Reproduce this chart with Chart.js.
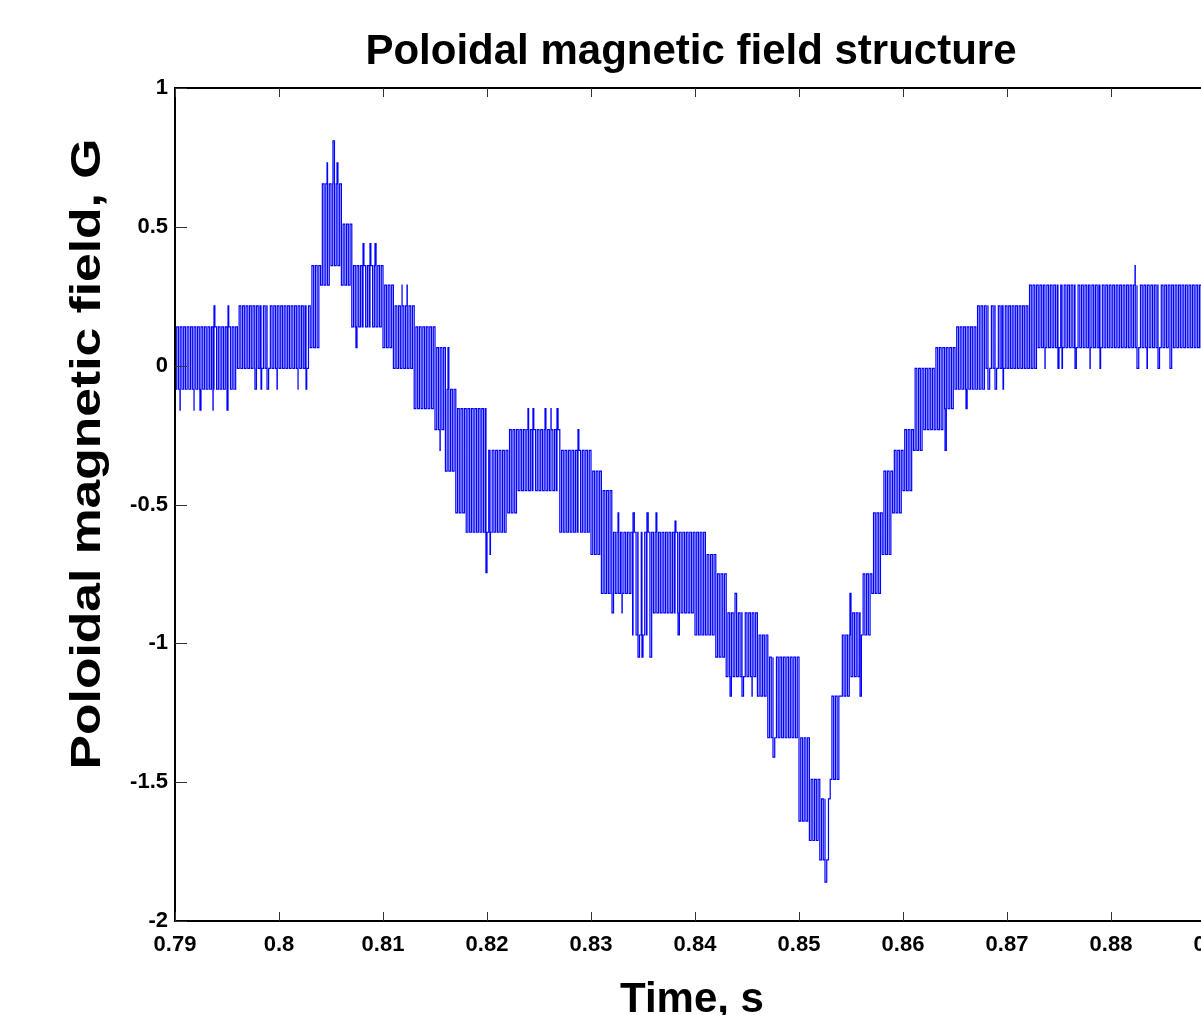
<!DOCTYPE html>
<html>
<head>
<meta charset="utf-8">
<script src="https://cdn.jsdelivr.net/npm/chart.js@4.4.1/dist/chart.umd.min.js"></script>
<style>
  html, body { margin: 0; padding: 0; background: #fff; overflow: hidden; }
</style>
</head>
<body>
<canvas id="chart" width="1330" height="1015"></canvas>
<script>
// Envelope of the probe signal in 1 ms bins starting at 0.79 s
const binStart = 0.79;
const binWidth = 0.001;

const binHigh = [
  0.14, 0.14, 0.14, 0.14, 0.14, 0.14, 0.215, 0.215, 0.215, 0.215,
  0.215, 0.215, 0.215, 0.36, 0.655, 0.655, 0.51, 0.36, 0.36, 0.36,
  0.29, 0.215, 0.215, 0.14, 0.14, 0.065, -0.085, -0.155, -0.155, -0.155,
  -0.305, -0.305, -0.23, -0.23, -0.23, -0.23, -0.23, -0.305, -0.305, -0.305,
  -0.38, -0.45, -0.6, -0.6, -0.6, -0.6, -0.6, -0.6, -0.6, -0.6,
  -0.6, -0.68, -0.75, -0.89, -0.89, -0.89, -0.97, -1.05, -1.05, -1.05,
  -1.34, -1.49, -1.56, -1.19, -0.97, -0.89, -0.75, -0.53, -0.38, -0.305,
  -0.23, -0.01, -0.01, 0.065, 0.065, 0.14, 0.14, 0.215, 0.215, 0.215,
  0.215, 0.215, 0.29, 0.29, 0.29, 0.29, 0.29, 0.29, 0.29, 0.29,
  0.29, 0.29, 0.29, 0.29, 0.29, 0.29, 0.29, 0.29, 0.29
];

const binLow = [
  -0.085, -0.085, -0.085, -0.085, -0.085, -0.085, -0.01, -0.01, -0.01, -0.01,
  -0.01, -0.01, -0.01, 0.065, 0.29, 0.36, 0.29, 0.14, 0.14, 0.14,
  0.065, -0.01, -0.01, -0.155, -0.155, -0.23, -0.38, -0.53, -0.6, -0.6,
  -0.6, -0.6, -0.53, -0.45, -0.45, -0.45, -0.45, -0.6, -0.6, -0.6,
  -0.68, -0.82, -0.82, -0.82, -0.97, -0.97, -0.89, -0.89, -0.89, -0.89,
  -0.97, -0.97, -1.05, -1.12, -1.12, -1.12, -1.19, -1.34, -1.34, -1.34,
  -1.64, -1.71, -1.78, -1.49, -1.19, -1.12, -0.97, -0.82, -0.68, -0.53,
  -0.45, -0.305, -0.23, -0.23, -0.155, -0.085, -0.085, -0.085, -0.01, -0.01,
  -0.01, -0.01, -0.01, 0.065, 0.065, 0.065, 0.065, 0.065, 0.065, 0.065,
  0.065, 0.065, 0.065, 0.065, 0.065, 0.065, 0.065, 0.065, 0.065
];

// single-sample excursions outside the band
const spikeTimes = [
  0.79048, 0.79183, 0.7924, 0.79365, 0.79375, 0.795, 0.7951, 0.79769, 0.79827, 0.79885,
  0.79981, 0.80183, 0.8026, 0.80462, 0.80519, 0.80558, 0.8074, 0.80808, 0.80875, 0.80923,
  0.81183, 0.81231, 0.81548, 0.81625, 0.8199, 0.82029, 0.82394, 0.82442, 0.82558, 0.82615,
  0.82673, 0.82875, 0.83202, 0.8326, 0.83298, 0.83404, 0.83452, 0.8349, 0.83538, 0.83567,
  0.83625, 0.83808, 0.83837, 0.84337, 0.84385, 0.84452, 0.84548, 0.8475, 0.8525, 0.8549,
  0.85587, 0.86404, 0.86606, 0.86817, 0.86885, 0.86962, 0.87365, 0.8749, 0.87529, 0.87654,
  0.87798, 0.87894, 0.88231, 0.8825, 0.88346, 0.88452, 0.88567
];
const spikeValues = [
  -0.16, -0.16, -0.16, -0.16, 0.215, -0.16, 0.215, -0.085, -0.085, -0.085,
  -0.085, -0.085, -0.085, 0.73, 0.81, 0.73, 0.065, 0.44, 0.44, 0.44,
  0.29, 0.29, -0.305, 0.065, -0.745, -0.68, -0.155, -0.155, -0.155, -0.155,
  -0.155, -0.23, -0.89, -0.53, -0.89, -0.53, -1.05, -1.05, -0.53, -1.05,
  -0.53, -0.56, -0.97, -1.19, -0.82, -1.19, -1.19, -1.41, -1.86, -0.82,
  -1.19, -0.305, -0.155, -0.085, -0.085, -0.085, -0.01, -0.01, -0.01, -0.01,
  -0.01, -0.01, 0.36, -0.01, -0.01, -0.01, -0.01
];

const xTicks = [0.79, 0.8, 0.81, 0.82, 0.83, 0.84, 0.85, 0.86, 0.87, 0.88, 0.89];
const yTicks = [1, 0.5, 0, -0.5, -1, -1.5, -2];

const titleText = "Poloidal magnetic field structure";
const xLabel = "Time, s";
const yLabel = "Poloidal magnetic field, G";

// fast sampling: the trace flips between the low and high level inside each bin
const flipsPerBin = 6;
const points = [];
binHigh.forEach((hi, i) => {
  const t0 = binStart + i * binWidth;
  for (let k = 0; k < flipsPerBin; k++) {
    points.push({ x: t0 + k * binWidth / flipsPerBin, y: k % 2 ? hi : binLow[i] });
  }
});
spikeTimes.forEach((t, i) => points.push({ x: t, y: spikeValues[i] }));
points.sort((a, b) => a.x - b.x);

const FONT = "'Liberation Sans', Arial, sans-serif";

const frame = {
  id: "frame",
  afterDraw(chart) {
    const { ctx, chartArea: a, scales: { x, y } } = chart;
    ctx.save();
    ctx.strokeStyle = "#000";
    ctx.lineWidth = 2;
    ctx.strokeRect(a.left, a.top, a.right - a.left, a.bottom - a.top);

    ctx.strokeStyle = "#333";
    ctx.lineWidth = 1;
    ctx.beginPath();
    xTicks.forEach(v => {
      const px = Math.round(x.getPixelForValue(v)) + 0.5;
      ctx.moveTo(px, a.bottom);
      ctx.lineTo(px, a.bottom - 9);
      ctx.moveTo(px, a.top);
      ctx.lineTo(px, a.top + 9);
    });
    yTicks.forEach(v => {
      const py = Math.round(y.getPixelForValue(v)) + 0.5;
      ctx.moveTo(a.left, py);
      ctx.lineTo(a.left + 12, py);
      ctx.moveTo(a.right, py);
      ctx.lineTo(a.right - 12, py);
    });
    ctx.stroke();

    ctx.fillStyle = "#000";
    ctx.textAlign = "center";
    ctx.textBaseline = "alphabetic";
    ctx.font = "bold 42px " + FONT;
    ctx.fillText(titleText, 691, 64);
    ctx.fillText(xLabel, 692, 1012);
    ctx.translate(100, 454);
    ctx.rotate(-Math.PI / 2);
    ctx.scale(1.2, 1);
    ctx.font = "bold 43px " + FONT;
    ctx.fillText(yLabel, 0, 0);
    ctx.restore();
  }
};

const tickFont = { family: FONT, size: 22, weight: "bold" };

new Chart(document.getElementById("chart"), {
  type: "line",
  data: {
    datasets: [{
      data: points,
      borderColor: "#0000ff",
      borderWidth: 1.2,
      pointRadius: 0,
      stepped: true,
      fill: false
    }]
  },
  options: {
    responsive: false,
    animation: false,
    events: [],
    layout: { padding: { top: 88, right: 11, left: 0, bottom: 0 } },
    plugins: { legend: { display: false }, tooltip: { enabled: false } },
    scales: {
      x: {
        type: "linear",
        min: 0.79,
        max: 0.9,
        afterBuildTicks: s => { s.ticks = xTicks.map(v => ({ value: v })); },
        afterFit: s => { s.height = 94; },
        grid: { display: false, drawTicks: false },
        border: { display: false },
        ticks: {
          color: "#000",
          font: tickFont,
          padding: 11,
          maxRotation: 0,
          autoSkip: false,
          callback: v => String(+v.toFixed(2))
        }
      },
      y: {
        type: "linear",
        min: -2,
        max: 1,
        afterBuildTicks: s => { s.ticks = yTicks.map(v => ({ value: v })); },
        afterFit: s => { s.width = 175; },
        grid: { display: false, drawTicks: false },
        border: { display: false },
        ticks: {
          color: "#000",
          font: tickFont,
          padding: 7,
          autoSkip: false,
          callback: v => String(v)
        }
      }
    }
  },
  plugins: [frame]
});
</script>
</body>
</html>
